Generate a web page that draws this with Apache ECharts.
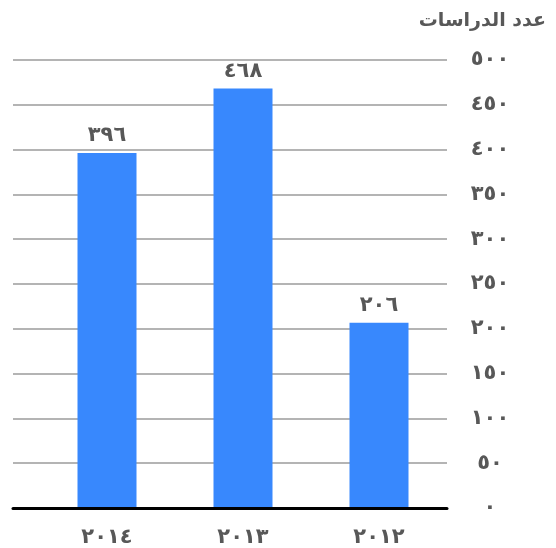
<!DOCTYPE html>
<html>
<head>
<meta charset="utf-8">
<script src="https://cdn.jsdelivr.net/npm/echarts@6/dist/echarts.min.js"></script>
<style>
html, body { margin: 0; padding: 0; background: #fff; }
#main { width: 556px; height: 548px; }
</style>
</head>
<body>
<div id="main"></div>
<script>
// data
var years = ['٢٠١٤', '٢٠١٣', '٢٠١٢'];
var studies = [396, 468, 206];
var yTicks = [0, 50, 100, 150, 200, 250, 300, 350, 400, 450, 500];
var yTitle = 'عدد الدراسات';

var FONT = '"DejaVu Sans", sans-serif';
var TXT = '#585858';

// western digits -> arabic-indic
function toArabic(n) {
	var d = ['٠','١','٢','٣','٤','٥','٦','٧','٨','٩'];
	return String(n).replace(/[0-9]/g, function(c) { return d[+c]; });
}

var myChart = echarts.init(document.getElementById('main'));
myChart.setOption({
	animation: false,
	title: {
		text: yTitle,
		right: 5,
		top: 7,
		textStyle: { color: TXT, fontSize: 19, fontWeight: 'bold', fontFamily: FONT }
	},
	grid: [
		{ left: 13, right: 109, top: 60, bottom: 40 },
		{ left: 39, right: 109, top: 60, bottom: 40 }
	],
	xAxis: [
		{
			gridIndex: 0,
			type: 'value',
			min: 0, max: 1,
			axisLine: { show: true, lineStyle: { color: '#000', width: 3 } },
			axisTick: { show: false },
			axisLabel: { show: false },
			splitLine: { show: false }
		},
		{
			gridIndex: 1,
			type: 'category',
			data: years,
			axisLine: { show: false },
			axisTick: { show: false },
			axisLabel: { margin: 20, color: TXT, fontSize: 21, fontWeight: 'bold', fontFamily: FONT }
		}
	],
	yAxis: [
		{
			gridIndex: 0,
			type: 'value',
			position: 'right',
			min: yTicks[0],
			max: yTicks[yTicks.length - 1],
			interval: 50,
			axisLine: { show: false },
			axisTick: { show: false },
			axisLabel: {
				margin: 43,
				align: 'center',
				color: TXT, fontSize: 21, fontWeight: 'bold', fontFamily: FONT,
				formatter: function(v) { return toArabic(v); }
			},
			splitLine: { show: true, lineStyle: { color: '#b4b4b4', width: 2 } }
		},
		{
			gridIndex: 1,
			type: 'value',
			min: yTicks[0],
			max: yTicks[yTicks.length - 1],
			show: false
		}
	],
	series: [
		{
			type: 'bar',
			xAxisIndex: 1,
			yAxisIndex: 1,
			data: studies,
			barWidth: 59,
			itemStyle: { color: '#3888fd' },
			label: {
				show: true,
				position: 'top',
				distance: 7,
				color: TXT, fontSize: 21, fontWeight: 'bold', fontFamily: FONT,
				formatter: function(p) { return toArabic(p.value); }
			}
		}
	]
});
</script>
</body>
</html>
